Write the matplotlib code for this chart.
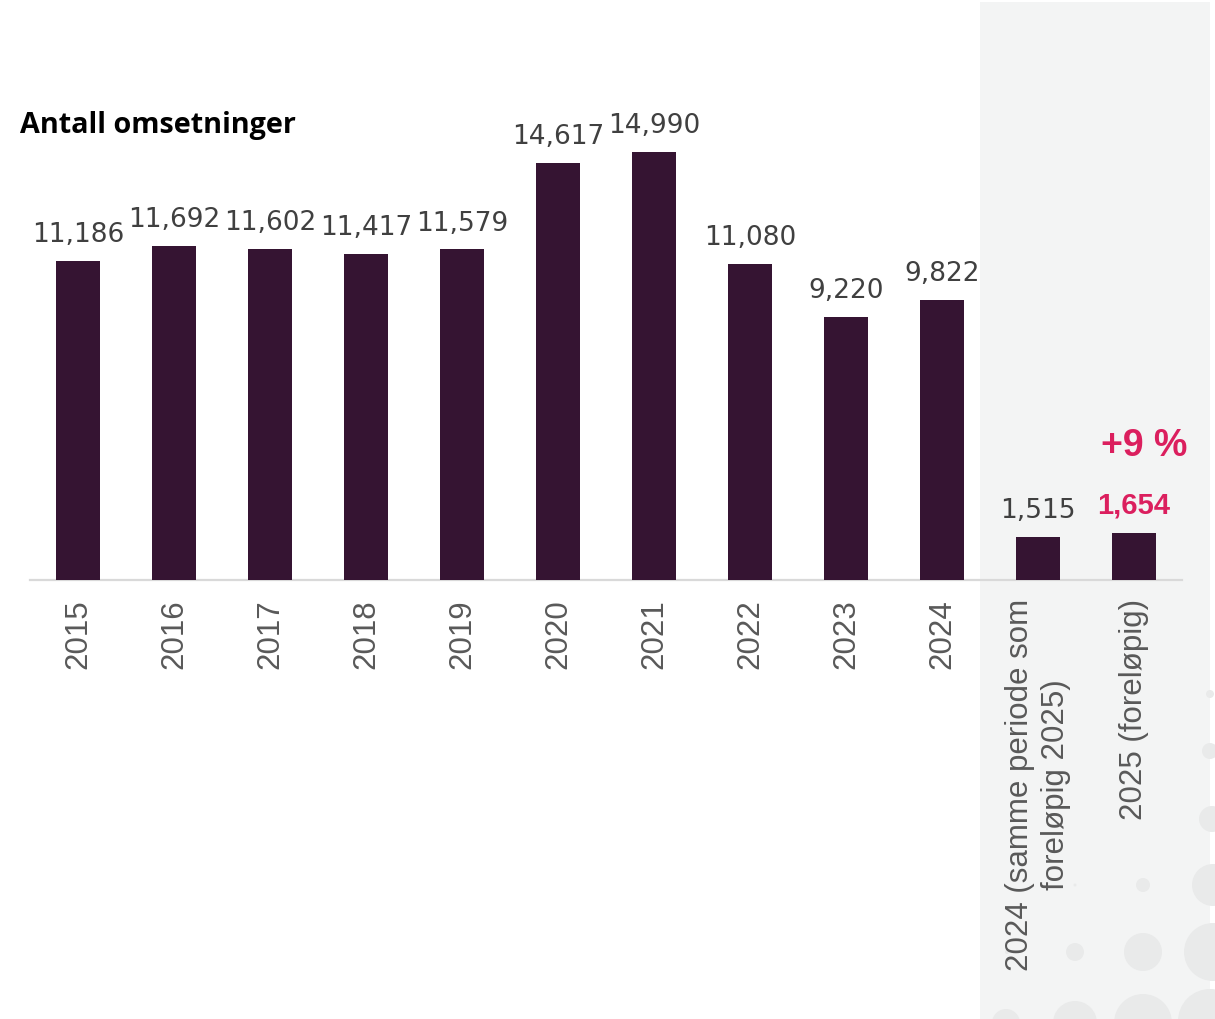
import matplotlib
matplotlib.use("Agg")
import matplotlib.pyplot as plt
from matplotlib.patches import Rectangle, Circle

# ---- data ----
categories = ["2015", "2016", "2017", "2018", "2019", "2020", "2021", "2022",
              "2023", "2024", "2024 (samme periode som\nforeløpig 2025)", "2025 (foreløpig)"]
values = [11186, 11692, 11602, 11417, 11579, 14617, 14990, 11080, 9220, 9822, 1515, 1654]
title = "Antall omsetninger"
change_label = "+9 %"

BAR = "#351432"
PINK = "#DB1F5E"
TXT = "#404040"
TICK = "#595959"

W, H = 1215, 1020
fig = plt.figure(figsize=(W / 100, H / 100), dpi=100)
fig.patch.set_facecolor("white")

# background decoration (pixel coordinates)
bg = fig.add_axes([0, 0, 1, 1], zorder=-5)
bg.set_xlim(0, W)
bg.set_ylim(H, 0)
bg.axis("off")
bg.add_patch(Rectangle((980, 3), 230, H - 3, facecolor="#f3f4f4", edgecolor="none"))
circ = [(1143, 886, 7), (1075, 953, 9), (1143, 953, 19), (1213, 953, 29),
        (1213, 886, 21), (1212, 820, 13), (1210, 752, 8), (1210, 695, 4),
        (1006, 1024, 14), (1075, 1024, 22), (1143, 1024, 29), (1210, 1022, 32),
        (1007, 953, 2), (1075, 886, 1.5)]
for cx, cy, r in circ:
    bg.add_patch(Circle((cx, cy), r, facecolor="#e9eaea", edgecolor="none"))

# main chart
px = 0.02855  # px per unit
ax_bottom = 581
ax_top = 100
ymax = (ax_bottom - ax_top) / px
ax = fig.add_axes([30 / W, (H - ax_bottom) / H, 1152 / W, (ax_bottom - ax_top) / H])
ax.patch.set_alpha(0)
x = list(range(len(categories)))
bars = ax.bar(x, values, width=0.46, color=BAR, zorder=3)
ax.set_xlim(-0.5, len(categories) - 0.5)
ax.set_ylim(0, ymax)
for s in ["top", "right", "left"]:
    ax.spines[s].set_visible(False)
ax.spines["bottom"].set_color("#d9d9d9")
ax.spines["bottom"].set_linewidth(1.6)
ax.set_yticks([])
ax.set_xticks(x)
ax.set_xticklabels(categories, rotation=90, ha="center", va="top",
                   multialignment="center", fontsize=22.5, color=TICK,
                   family=["Liberation Sans", "DejaVu Sans"], linespacing=1.3)
ax.tick_params(axis="x", length=0, pad=13)

for i, v in enumerate(values):
    last = i == len(values) - 1
    ax.annotate(f"{v:,}", (i, v), xytext=(0, 10), textcoords="offset points",
                ha="center", va="bottom",
                fontsize=19 if not last else 21,
                color=PINK if last else TXT,
                fontweight="bold" if last else "normal",
                family=["DejaVu Sans"] if not last else ["Liberation Sans", "DejaVu Sans"])

ax.annotate(change_label, (len(values) - 1, values[-1]), xytext=(7, 50),
            textcoords="offset points", ha="center", va="bottom", fontsize=27,
            color=PINK, fontweight="bold", family=["Liberation Sans", "DejaVu Sans"])

fig.text(20 / W, 1 - 126 / H, title, ha="left", va="center", fontsize=20.7,
         fontweight="bold", color="black", family=["Open Sans", "DejaVu Sans"])

fig.savefig("out.png", dpi=100)
